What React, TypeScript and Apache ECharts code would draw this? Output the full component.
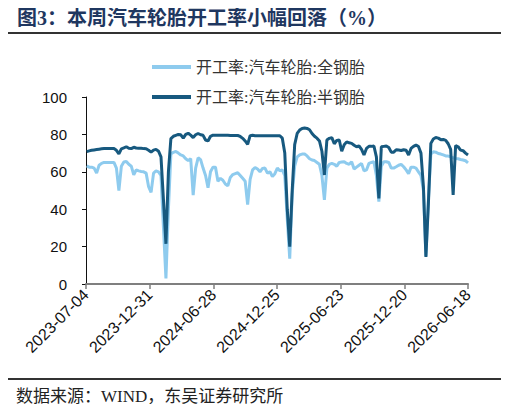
import React, { useEffect, useRef } from "react";
import * as echarts from "echarts";

const titleText = "图3：本周汽车轮胎开工率小幅回落（%）";
const sourceText = "数据来源：WIND，东吴证券研究所";
const seriesNames = ["开工率:汽车轮胎:全钢胎", "开工率:汽车轮胎:半钢胎"];
const xTickLabels = ["2023-07-04", "2023-12-31", "2024-06-28", "2024-12-25", "2025-06-23", "2025-12-20", "2026-06-18"];
const yTicks = [0, 20, 40, 60, 80, 100];
const firstWeek = "2023-07-06";

// 全钢胎 weekly operating rate
const allSteel = [
  63.2, 62.5, 62.5, 62, 59.3, 63.5, 64.5, 65, 65, 65,
  65, 65, 62, 50, 63, 65.2, 65.5, 64, 63, 58.4,
  61, 60.5, 60.2, 60, 59.3, 52, 49, 59.3, 60.5, 60,
  58, 30, 3, 40, 69.5, 70.4, 70.9, 70, 69, 68.5,
  67, 66, 67, 47.5, 62, 67.5, 66.5, 62, 58, 51.5,
  60, 62.5, 62.5, 55, 56.5, 55.5, 53.5, 52.5, 57, 58.5,
  59, 59.5, 58, 56.5, 55, 42.5, 56, 61, 62.3, 61.5,
  60, 61.8, 62, 59.3, 60, 57.5, 59, 62, 60.5, 61,
  58, 35, 13.5, 48, 63, 68, 69, 69.5, 69.5, 68.5,
  67, 66.3, 66, 65, 64, 58, 45, 62, 64, 64.5,
  64, 63, 65, 65.2, 65.4, 64.5, 64, 65.4, 61.5, 62.5,
  63.5, 64.5, 60.5, 61, 64.5, 65, 65.4, 58, 44, 63,
  65.4, 65.4, 65, 62, 62, 62.7, 63.5, 64, 62.7, 61,
  59, 62.5, 62.5, 62, 60, 58, 50, 15, 45, 69.5,
  70.7, 70.5, 69.8, 69.5, 69, 68.5, 68.4, 68, 67.5, 67.1,
  67, 66.6, 66.3, 65.9, 64.8,
];

// 半钢胎 weekly operating rate
const semiSteel = [
  70.8, 71.2, 71.5, 71.7, 71.9, 72.1, 72.3, 72.4, 72.5, 72.5,
  72.5, 72.4, 71.5, 69.6, 72.3, 72.8, 73.4, 72.6, 72.4, 73.1,
  72.7, 72.6, 72.6, 72.4, 72.3, 71.5, 70.5, 71.6, 72, 71,
  68, 45, 21.5, 60, 77.8, 79, 79.5, 80, 79.8, 78,
  80, 80.6, 79.6, 78.3, 79.8, 80.5, 79.8, 79.5, 77, 76.5,
  79, 79.6, 79.6, 79.5, 79.5, 79.5, 79.5, 79.5, 79.4, 79.4,
  79.4, 79.4, 78.9, 77.9, 76.5, 74.7, 79.3, 79.5, 79.3, 79.3,
  79.3, 79.3, 79.3, 79.3, 79.3, 79.3, 79.3, 79.3, 79.3, 78,
  70, 40, 20, 50, 74.5, 80.5, 82.3, 83.2, 83.4, 83.2,
  82.5, 80.5, 79, 78, 76.5, 71, 58.3, 77, 77.9, 78.3,
  75, 76.8, 77, 71, 74.5, 76, 75.5, 75.2, 74.2, 73.4,
  73.8, 72, 69, 72.5, 73.6, 73.6, 73.8, 68, 45.8, 73.4,
  73.6, 73.8, 73, 70.5, 70.5, 71.8, 71.6, 71.4, 71.8, 71.5,
  69, 72.5, 73.6, 74.3, 73.5, 70, 52, 14.5, 43, 75.2,
  77.5, 78.3, 78, 77.2, 77.3, 76.8, 75, 72, 47.7, 74,
  73.4, 71.6, 71.3, 70, 69,
];

const DAY = 86400000;
const toUTC = (s: string) => {
  const [y, m, d] = s.split("-").map(Number);
  return Date.UTC(y, m - 1, d);
};
const origin = toUTC(xTickLabels[0]);
const dayOf = (s: string) => (toUTC(s) - origin) / DAY;
const weekDays = allSteel.map((_, i) => dayOf(firstWeek) + 7 * i);

export default function App() {
  const ref = useRef<HTMLDivElement>(null);
  useEffect(() => {
    if (!ref.current) return;
    const chart = echarts.init(ref.current, undefined, { renderer: "svg" });
    const xMin = dayOf(xTickLabels[0]);
    const xMax = dayOf(xTickLabels[xTickLabels.length - 1]);
    const xInterval = (xMax - xMin) / (xTickLabels.length - 1);
    chart.setOption({
      animation: false,
      backgroundColor: "#ffffff",
      title: {
        text: titleText,
        left: 12,
        top: 3,
        textStyle: {
          fontSize: 20,
          fontWeight: "bold",
          color: "#1f3760",
          fontFamily: "Liberation Serif, Noto Sans CJK SC",
        },
      },
      graphic: [
        { type: "line", shape: { x1: 5, y1: 33, x2: 503, y2: 33 }, style: { stroke: "#333", lineWidth: 2 } },
        { type: "line", shape: { x1: 5, y1: 379, x2: 503, y2: 379 }, style: { stroke: "#333", lineWidth: 2 } },
        {
          type: "text",
          left: 16,
          top: 388,
          style: {
            text: sourceText,
            fontSize: 17,
            fill: "#222",
            fontFamily: "Liberation Serif, Noto Sans CJK SC",
          },
        },
      ],
      legend: {
        orient: "vertical",
        left: 147,
        top: 53,
        itemWidth: 39,
        itemHeight: 4,
        itemGap: 12,
        icon: "rect",
        textStyle: {
          fontSize: 16,
          lineHeight: 18,
          color: "#333",
          fontFamily: "Liberation Serif, Noto Sans CJK SC",
        },
        data: seriesNames,
      },
      grid: { left: 86, right: 41, top: 97, bottom: 128 },
      xAxis: {
        type: "value",
        min: xMin,
        max: xMax,
        interval: xInterval,
        splitLine: { show: false },
        axisLine: { lineStyle: { color: "#7f7f7f", width: 2 } },
        axisTick: { show: true, length: 5, lineStyle: { color: "#7f7f7f", width: 1.5 } },
        axisLabel: {
          rotate: 45,
          fontSize: 16,
          color: "#111",
          margin: 8,
          fontFamily: "Liberation Sans, Arial",
          formatter: (_v: number, idx: number) => xTickLabels[idx] ?? "",
        },
      },
      yAxis: {
        type: "value",
        min: yTicks[0],
        max: yTicks[yTicks.length - 1],
        interval: yTicks[1] - yTicks[0],
        splitLine: { show: false },
        axisLine: { show: true, lineStyle: { color: "#111", width: 1 } },
        axisTick: { show: true, length: 4, lineStyle: { color: "#111" } },
        axisLabel: {
          fontSize: 15,
          color: "#111",
          margin: 19,
          fontFamily: "Liberation Sans, Arial",
        },
      },
      series: [
        {
          name: seriesNames[0],
          type: "line",
          showSymbol: false,
          symbol: "none",
          lineStyle: { color: "#8ecbee", width: 3 },
          itemStyle: { color: "#8ecbee" },
          data: allSteel.map((v, i) => [weekDays[i], v]),
        },
        {
          name: seriesNames[1],
          type: "line",
          showSymbol: false,
          symbol: "none",
          lineStyle: { color: "#17597f", width: 3 },
          itemStyle: { color: "#17597f" },
          data: semiSteel.map((v, i) => [weekDays[i], v]),
        },
      ],
    });
    return () => chart.dispose();
  }, []);
  return <div ref={ref} style={{ width: 509, height: 412, margin: -8 }} />;
}
